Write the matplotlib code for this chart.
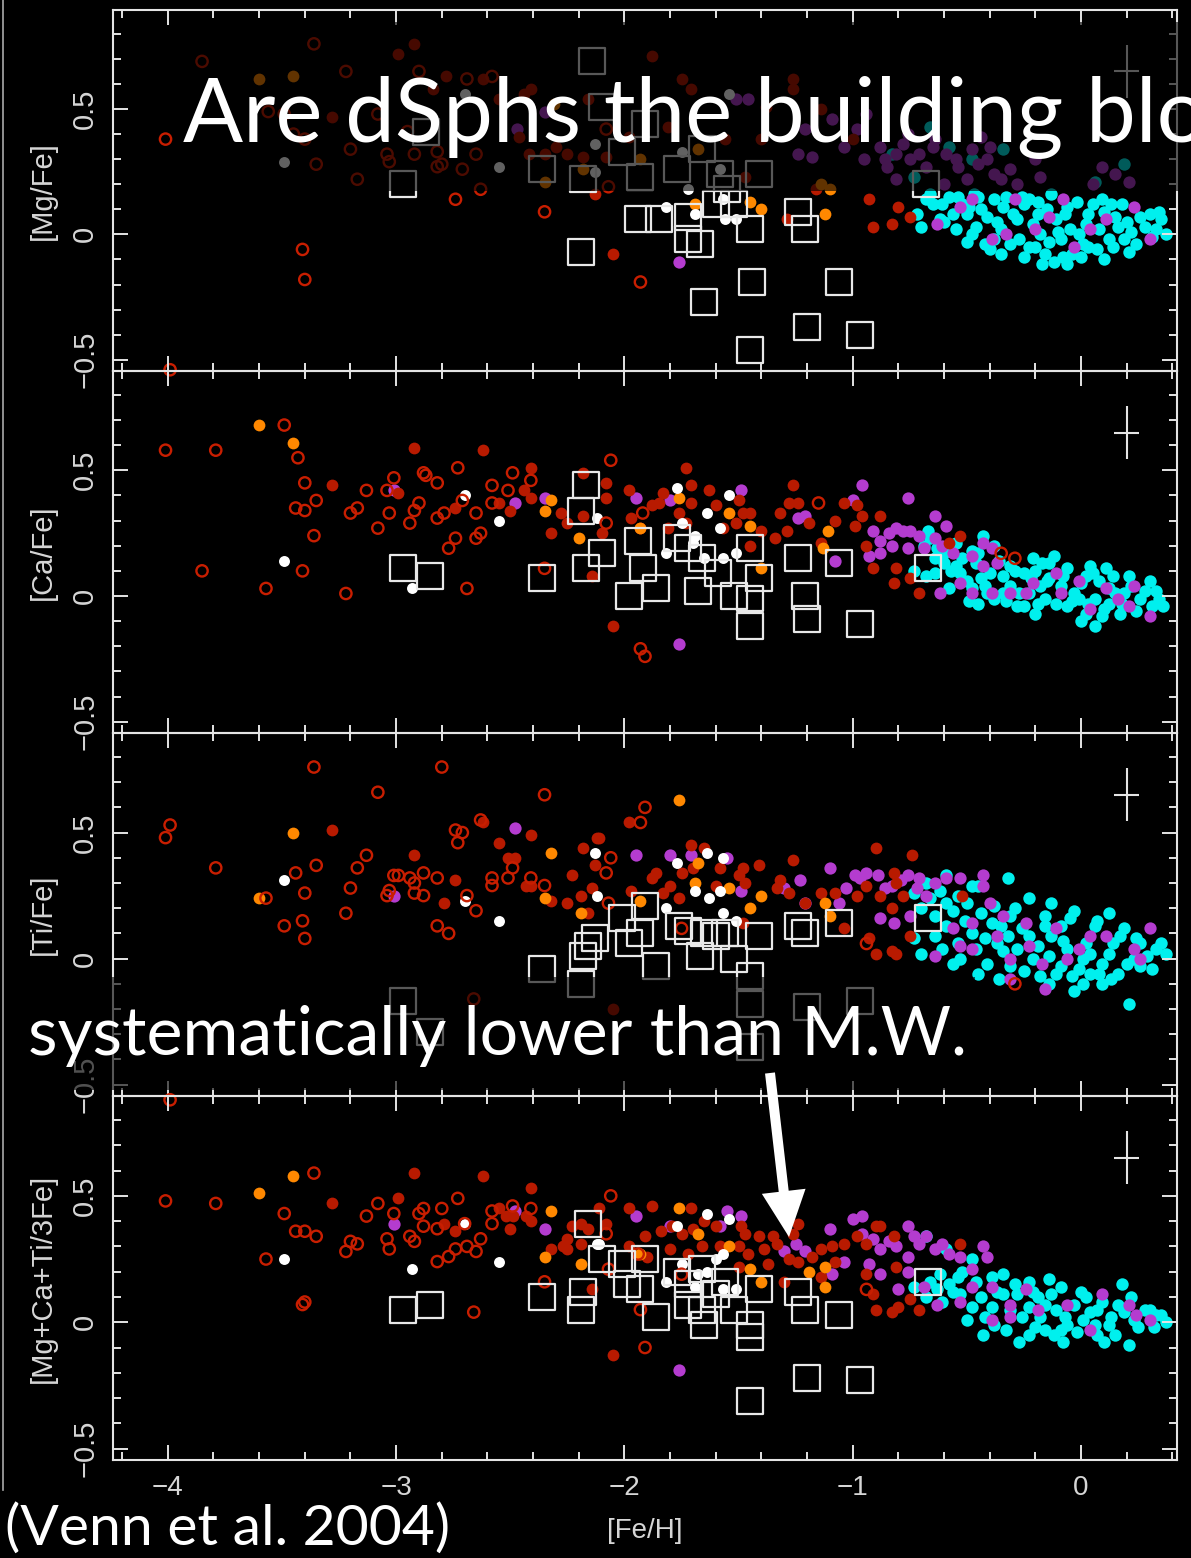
import matplotlib
matplotlib.use("Agg")
import matplotlib.pyplot as plt
from matplotlib.ticker import MultipleLocator, FixedLocator, FixedFormatter
from matplotlib.patches import Rectangle, FancyArrow

W, H, DPI = 1191, 1558, 100

# ---------------- [Mg/Fe] ----------------
mg_open = [(-3.99,-0.54),(-4.01,0.38),(-3.85,0.69),(-3.36,0.76),(-3.22,0.65),(-3.41,-0.06),(-3.40,-0.18),
           (-3.20,0.34),(-3.35,0.28),(-3.17,0.22),(-3.04,0.32),(-3.03,0.29),(-2.92,0.32),(-2.90,0.65),
           (-2.82,0.33),(-2.82,0.27),(-2.80,0.28),(-2.74,0.14),(-2.71,0.26),(-2.69,0.62),(-2.65,0.32),
           (-2.63,0.18),(-2.58,0.63),(-2.35,0.09),(-2.95,0.41),(-3.08,0.48),(-3.56,0.49),(-3.49,0.48),
           (-3.45,0.40),(-3.40,0.38),(-1.93,-0.19),(-2.07,0.19),(-2.08,0.42)]
mg_red = [(-2.99,0.72),(-2.92,0.76),(-2.84,0.58),(-2.78,0.63),(-2.62,0.62),(-2.55,0.54),(-2.44,0.56),
          (-2.41,0.58),(-2.13,0.16),(-2.25,0.32),(-2.18,0.31),(-2.16,0.54),(-2.46,0.39),(-2.42,0.32),
          (-2.35,0.32),(-2.30,0.35),(-3.28,0.47),(-2.05,-0.08),(-1.88,0.71),(-1.75,0.62),(-1.71,0.58),
          (-1.26,0.62),(-1.26,0.58),(-1.16,0.18),(-0.93,0.14),(-0.91,0.03),(-0.83,0.04),(-0.80,0.11),
          (-0.75,0.07),(-1.29,0.06),(-1.47,0.23),(-1.98,0.39),(-1.81,0.43),(-2.08,0.31),(-1.40,0.38),
          (-1.56,0.38),(-1.14,0.50),(-1.00,0.38),(-1.38,0.51)]
mg_orange = [(-3.60,0.62),(-3.45,0.63),(-2.35,0.21),(-2.18,0.26),(-2.31,0.52),(-1.69,0.12),(-1.45,0.13),
             (-1.40,0.10),(-1.12,0.08),(-1.14,0.20),(-1.10,0.18),(-1.93,0.30),(-1.68,0.34)]
mg_white = [(-3.49,0.29),(-2.70,0.56),(-2.55,0.27),(-2.13,0.36),(-1.82,0.11),(-1.69,0.08),(-1.57,0.14),
            (-1.56,0.06),(-1.51,0.06),(-1.72,0.18),(-2.13,0.25),(-1.54,0.56),(-1.75,0.33),(-1.58,0.26)]
mg_purple = [(-2.35,0.49),(-2.47,0.42),(-1.76,-0.11),(-1.51,0.54),(-1.46,0.54),(-1.09,0.46),(-1.21,0.42),
             (-1.24,0.32),(-1.18,0.31),(-1.04,0.35),(-0.98,0.42),(-0.94,0.48),(-0.88,0.35),(-0.86,0.30),
             (-0.81,0.32),(-0.78,0.36),(-0.71,0.32),(-0.68,0.27),(-0.64,0.38),(-0.59,0.32),(-0.54,0.27),
             (-0.48,0.34),(-0.41,0.30),(-0.38,0.24),(-0.31,0.26),(-0.18,0.23),(0.09,0.27),(0.21,0.21),
             (-0.81,0.22),(-0.76,0.40),(-0.44,0.39),(-0.63,0.04),(-0.53,0.11),(-0.39,-0.02),(-0.33,0.00),
             (-0.20,0.02),(-0.08,0.14),(0.04,0.02),(0.23,0.11),(0.30,-0.02),(-0.03,-0.05),(-0.29,0.14),
             (-0.48,0.14),(-0.14,0.07),(0.11,0.06),(-0.95,0.30),(-0.85,0.27),(-0.75,0.30),(-0.65,0.35),
             (-0.55,0.30),(-0.45,0.28),(-0.35,0.22),(-0.28,0.20),(-0.60,0.20),(-0.50,0.22),(-0.40,0.35),
             (-0.20,0.30),(0.05,0.20),(0.15,0.24)]
mg_cyan = [(-0.72,0.08),(-0.68,0.14),(-0.61,0.12),(-0.56,0.08),(-0.49,0.11),(-0.46,0.03),(-0.41,0.07),
           (-0.38,-0.02),(-0.34,0.11),(-0.28,0.06),(-0.23,0.14),(-0.23,-0.05),(-0.18,0.00),(-0.16,-0.08),
           (-0.12,-0.11),(-0.11,0.06),(-0.06,0.11),(-0.04,-0.08),(-0.01,0.00),(0.03,0.08),(0.08,0.02),
           (0.13,0.12),(0.16,0.03),(0.21,-0.07),(0.26,0.07),(0.33,0.02),(0.35,0.06),(0.37,0.00),
           (-0.48,0.00),(-0.31,-0.04),(-0.09,-0.02),(0.09,0.14),(0.19,-0.02),(-0.54,0.15),(-0.19,0.08),
           (0.03,-0.05),(-0.38,0.14),(-0.60,0.05),(-0.50,0.08),(-0.35,0.02),(-0.25,0.12),(-0.15,0.10),
           (-0.05,0.02),(0.05,0.12),(0.12,-0.02),(0.20,0.05),(0.30,0.08),(-0.40,-0.06),(-0.20,-0.05),
           (0.00,-0.09),(-0.65,0.12),(-0.45,0.15),(-0.66,0.43),(-0.58,0.35),(-0.34,0.34),(0.19,0.28),
           (0.06,0.21),(-0.83,0.32),(-0.73,0.23),(-0.48,0.30),
           (-0.70,0.03),(-0.66,0.16),(-0.62,0.06),(-0.58,0.15),(-0.55,0.02),(-0.52,0.12),(-0.50,-0.03),
           (-0.47,0.16),(-0.44,0.10),(-0.42,-0.04),(-0.37,0.05),(-0.33,0.15),(-0.30,0.08),(-0.27,-0.02),
           (-0.26,0.15),(-0.21,0.04),(-0.19,0.13),(-0.14,-0.03),(-0.13,0.16),(-0.10,0.01),(-0.08,-0.09),
           (-0.07,0.08),(-0.02,0.13),(0.01,-0.04),(0.02,0.04),(0.07,-0.06),(0.10,0.09),(0.14,-0.05),
           (0.15,0.07),(0.18,0.12),(0.22,0.01),(0.24,-0.04),(0.28,0.03),(0.31,-0.01),(0.34,0.09),
           (-0.35,-0.08),(-0.25,-0.09),(-0.17,-0.12),(-0.06,-0.12),(0.10,-0.10)]
mg_dsph = [(-2.97,0.20),(-2.87,0.41),(-2.36,0.26),(-2.18,0.22),(-2.14,0.69),(-2.10,0.51),(-2.19,-0.07),
           (-1.91,0.44),(-2.01,0.33),(-1.93,0.23),(-1.77,0.26),(-1.66,0.34),(-1.58,0.24),(-1.41,0.24),
           (-1.55,0.18),(-1.52,0.12),(-1.94,0.06),(-1.85,0.06),(-1.72,0.07),(-1.72,-0.02),(-1.67,-0.04),
           (-1.60,0.12),(-1.45,0.02),(-1.24,0.09),(-1.21,0.02),(-1.44,-0.19),(-1.06,-0.19),(-1.65,-0.27),
           (-1.20,-0.37),(-0.97,-0.40),(-1.45,-0.46),(-0.68,0.20)]

# ---------------- [Ca/Fe] ----------------
ca_open = [(-4.01,0.58),(-3.79,0.58),(-3.49,0.68),(-3.43,0.55),(-3.40,0.45),(-3.35,0.38),(-3.44,0.35),
           (-3.40,0.34),(-3.36,0.24),(-3.85,0.10),(-3.57,0.03),(-3.41,0.10),(-3.22,0.01),(-3.20,0.33),
           (-3.17,0.35),(-3.13,0.42),(-3.08,0.27),(-3.04,0.42),(-3.03,0.33),(-3.01,0.47),(-2.94,0.29),
           (-2.92,0.34),(-2.90,0.37),(-2.88,0.49),(-2.87,0.48),(-2.82,0.45),(-2.82,0.31),(-2.79,0.33),
           (-2.77,0.19),(-2.74,0.23),(-2.73,0.51),(-2.71,0.38),(-2.69,0.03),(-2.65,0.23),(-2.65,0.33),
           (-2.63,0.25),(-2.58,0.44),(-2.58,0.37),(-2.51,0.42),(-2.49,0.49),(-2.41,0.46),(-2.35,0.11),
           (-2.06,0.54),(-1.15,0.37),(-1.92,0.33),(-2.08,0.29),(-1.93,-0.21),(-1.91,-0.24),(-0.35,0.17),
           (-0.29,0.15)]
ca_red = [(-3.28,0.44),(-2.99,0.41),(-2.92,0.59),(-2.74,0.35),(-2.62,0.58),(-2.55,0.37),(-2.50,0.34),
          (-2.44,0.42),(-2.41,0.51),(-2.41,0.39),(-2.32,0.25),(-2.28,0.33),(-2.25,0.29),(-2.18,0.49),
          (-2.18,0.32),(-2.14,0.08),(-1.73,0.51),(-2.08,0.45),(-1.98,0.42),(-1.71,0.44),(-1.63,0.42),
          (-1.83,0.41),(-1.88,0.36),(-1.85,0.37),(-1.76,0.33),(-1.71,0.37),(-1.60,0.36),(-1.50,0.38),
          (-1.48,0.33),(-2.08,0.39),(-1.97,0.31),(-1.93,0.27),(-2.10,0.25),(-1.81,0.27),(-1.73,0.29),
          (-1.57,0.27),(-1.51,0.29),(-1.45,0.33),(-1.40,0.26),(-1.34,0.23),(-1.32,0.33),(-1.26,0.44),
          (-1.28,0.37),(-1.24,0.37),(-1.29,0.26),(-1.19,0.29),(-1.14,0.21),(-1.08,0.30),(-1.04,0.37),
          (-0.98,0.36),(-0.96,0.32),(-0.88,0.32),(-0.99,0.28),(-0.94,0.20),(-0.91,0.11),(-0.81,0.11),
          (-0.82,0.05),(-0.71,0.01),(-2.05,-0.12),(-1.45,0.20),(-0.75,0.07),(-0.53,0.24),(-0.58,0.21)]
ca_orange = [(-3.60,0.68),(-3.45,0.61),(-2.35,0.34),(-2.32,0.38),(-2.20,0.23),(-1.76,0.39),(-1.54,0.33),
             (-1.45,0.28),(-1.93,0.27),(-1.11,0.26),(-1.13,0.19),(-1.40,0.11)]
ca_white = [(-3.49,0.14),(-2.93,0.03),(-2.70,0.40),(-2.55,0.30),(-1.77,0.43),(-1.54,0.40),(-1.64,0.33),
            (-1.75,0.29),(-2.12,0.31),(-1.82,0.17),(-1.70,0.21),(-1.65,0.15),(-1.58,0.27),(-1.57,0.15),
            (-1.51,0.17),(-1.69,0.24)]
ca_purple = [(-3.01,0.42),(-2.48,0.37),(-2.35,0.39),(-1.95,0.39),(-1.80,0.38),(-1.49,0.42),(-0.96,0.44),
             (-0.76,0.39),(-1.00,0.38),(-1.24,0.31),(-1.21,0.32),(-0.64,0.32),(-0.59,0.28),(-1.76,-0.19),
             (-1.08,0.14),(-0.91,0.26),(-0.88,0.22),(-0.84,0.25),(-0.81,0.27),(-0.78,0.26),(-0.75,0.26),
             (-0.71,0.24),(-0.93,0.16),(-0.88,0.17),(-0.83,0.20),(-0.76,0.19),(-0.69,0.19),(-0.64,0.23),
             (-0.61,0.20),(-0.56,0.17),(-0.48,0.16),(-0.43,0.21),(-0.39,0.19),(-0.37,0.13),(-0.43,0.12),
             (-0.53,0.05),(-0.39,0.01),(-0.31,0.01),(-0.21,0.05),(-0.01,0.06),(0.04,-0.05),(0.21,-0.04),
             (0.30,-0.08),(0.23,0.04),(-0.11,0.09),(0.16,-0.01),(-0.62,0.01),(-0.48,0.01),(-0.24,0.01),
             (-0.09,0.01),(0.11,0.03)]
ca_cyan = [(-0.67,0.26),(-0.69,0.20),(-0.63,0.19),(-0.58,0.18),(-0.48,0.18),(-0.38,0.20),(-0.73,0.10),
           (-0.68,0.08),(-0.64,0.09),(-0.60,0.13),(-0.55,0.12),(-0.58,0.03),(-0.48,0.03),(-0.49,-0.02),
           (-0.44,0.07),(-0.40,0.09),(-0.34,0.08),(-0.31,0.12),(-0.25,0.09),(-0.21,0.15),(-0.17,0.13),
           (-0.14,0.13),(-0.23,0.01),(-0.25,-0.04),(-0.16,-0.01),(-0.09,0.04),(-0.06,-0.04),(-0.03,0.01),
           (0.02,0.08),(0.05,0.09),(0.11,0.11),(0.12,0.03),(0.17,-0.07),(0.06,-0.12),(0.09,-0.08),
           (0.21,0.08),(0.26,-0.01),(0.33,0.02),(0.36,-0.04),(0.31,-0.04),(-0.38,-0.01),(-0.31,0.04),
           (-0.41,0.01),(-0.14,0.07),(-0.01,-0.01),(0.06,-0.01),(0.19,0.01),(-0.18,0.04),(-0.11,-0.03),
           (0.02,-0.07),(-0.28,-0.04),(-0.53,0.09),(-0.46,0.13),(-0.06,0.11),(-0.22,0.07),(-0.34,0.01),
           (-0.64,0.15),(0.12,-0.03),
           (-0.66,0.23),(-0.61,0.16),(-0.57,0.10),(-0.52,0.15),(-0.50,0.06),(-0.45,0.17),(-0.42,0.04),
           (-0.36,0.14),(-0.33,-0.02),(-0.29,0.10),(-0.27,0.01),(-0.20,0.10),(-0.19,-0.03),(-0.15,0.06),
           (-0.12,0.16),(-0.08,0.08),(-0.04,-0.02),(0.00,0.05),(0.03,-0.03),(0.04,0.12),(0.08,0.06),
           (0.10,-0.05),(0.14,0.08),(0.15,0.01),(0.18,-0.03),(0.22,0.04),(0.24,-0.06),(0.28,0.02),
           (0.30,0.06),(0.34,-0.01),(-0.45,-0.03),(-0.20,-0.07),(0.00,-0.10),(-0.55,0.21),(-0.43,0.24)]
ca_dsph = [(-2.97,0.11),(-2.85,0.08),(-2.36,0.07),(-2.17,0.44),(-2.19,0.34),(-2.17,0.11),(-2.10,0.17),
           (-1.94,0.22),(-1.92,0.11),(-1.98,0.00),(-1.86,0.03),(-1.77,0.23),(-1.72,0.19),(-1.68,0.02),
           (-1.66,0.15),(-1.59,0.09),(-1.52,0.00),(-1.45,0.19),(-1.41,0.07),(-1.45,-0.01),(-1.45,-0.12),
           (-1.24,0.15),(-1.21,0.00),(-1.20,-0.09),(-1.06,0.13),(-0.97,-0.11),(-0.67,0.11)]

# ---------------- [Ti/Fe] ----------------
ti_open = [(-3.99,0.53),(-4.01,0.48),(-3.79,0.36),(-3.57,0.24),(-3.49,0.13),(-3.44,0.34),(-3.41,0.15),
           (-3.40,0.08),(-3.40,0.26),(-3.36,0.76),(-3.35,0.37),(-3.22,0.18),(-3.20,0.28),(-3.17,0.36),
           (-3.13,0.41),(-3.08,0.66),(-3.04,0.25),(-3.03,0.27),(-3.01,0.33),(-2.99,0.33),(-2.94,0.32),
           (-2.92,0.30),(-2.92,0.26),(-2.88,0.34),(-2.88,0.25),(-2.82,0.32),(-2.82,0.13),(-2.80,0.76),
           (-2.77,0.10),(-2.74,0.51),(-2.73,0.46),(-2.71,0.50),(-2.69,0.25),(-2.65,0.19),(-2.63,0.55),
           (-2.58,0.32),(-2.58,0.29),(-2.51,0.32),(-2.49,0.36),(-2.41,0.32),(-2.35,0.65),(-2.35,0.29),
           (-2.66,-0.16),(-1.91,0.60),(-1.93,0.54),(-2.06,0.40),(-2.08,0.34),(-2.07,0.22),(-0.94,0.06),
           (-0.29,-0.10),(-1.75,0.12)]
ti_red = [(-3.28,0.51),(-2.92,0.41),(-2.79,0.22),(-2.74,0.31),(-2.62,0.54),(-2.55,0.46),(-2.51,0.40),
          (-2.48,0.40),(-2.41,0.49),(-2.43,0.29),(-2.41,0.29),(-2.32,0.23),(-2.25,0.22),(-2.23,0.33),
          (-2.19,0.25),(-2.18,0.44),(-2.13,0.37),(-2.12,0.48),(-2.14,0.28),(-2.16,0.18),(-1.98,0.54),
          (-2.11,0.48),(-1.71,0.45),(-1.65,0.44),(-1.86,0.34),(-1.88,0.32),(-1.75,0.34),(-1.70,0.36),
          (-1.58,0.36),(-1.48,0.36),(-1.41,0.37),(-1.50,0.33),(-1.80,0.29),(-1.83,0.26),(-1.76,0.24),
          (-1.97,0.27),(-1.60,0.29),(-1.47,0.30),(-1.32,0.31),(-1.26,0.39),(-1.28,0.26),(-1.33,0.28),
          (-1.21,0.22),(-1.14,0.26),(-1.08,0.26),(-0.98,0.25),(-0.94,0.29),(-0.88,0.25),(-0.90,0.44),
          (-0.74,0.41),(-0.82,0.34),(-0.81,0.30),(-0.78,0.25),(-0.83,0.20),(-0.93,0.08),(-0.90,0.02),
          (-0.81,0.02),(-0.83,0.03),(-0.75,0.09),(-1.04,0.12),(-1.48,0.14),(-0.52,0.25),(-2.05,-0.20)]
ti_orange = [(-3.45,0.50),(-3.60,0.24),(-2.32,0.42),(-2.35,0.24),(-2.19,0.18),(-1.76,0.63),(-1.68,0.38),
             (-1.69,0.30),(-1.54,0.28),(-1.93,0.23),(-1.45,0.20),(-1.40,0.25),(-1.12,0.22),(-1.10,0.17)]
ti_white = [(-3.49,0.31),(-2.70,0.23),(-2.55,0.15),(-2.13,0.42),(-2.12,0.25),(-1.77,0.38),(-1.64,0.42),
            (-1.57,0.40),(-1.69,0.27),(-1.63,0.24),(-1.58,0.27),(-1.57,0.18),(-1.82,0.20),(-1.51,0.15)]
ti_purple = [(-3.01,0.25),(-2.48,0.52),(-1.95,0.41),(-1.80,0.41),(-1.71,0.41),(-1.55,0.40),(-1.49,0.27),
             (-1.30,0.28),(-1.23,0.31),(-1.10,0.36),(-1.21,0.22),(-1.06,0.22),(-1.03,0.28),(-0.99,0.33),
             (-0.97,0.32),(-0.94,0.34),(-0.89,0.33),(-0.86,0.28),(-0.83,0.29),(-0.79,0.31),(-0.76,0.33),
             (-0.71,0.32),(-0.72,0.28),(-0.68,0.25),(-0.64,0.30),(-0.59,0.32),(-0.53,0.32),(-0.43,0.33),
             (-0.43,0.29),(-0.40,0.22),(-0.88,0.16),(-0.82,0.14),(-0.75,0.17),(-0.64,0.01),(-0.56,0.12),
             (-0.53,0.05),(-0.48,0.14),(-0.37,0.09),(-0.31,-0.08),(-0.16,-0.12),(-0.11,0.12),(-0.01,0.04),
             (0.04,0.09),(0.11,0.09),(0.23,0.04),(0.26,0.00),(0.30,0.12),(-0.31,0.00),(-0.48,0.04),
             (-0.24,0.14),(-0.34,0.17),(-0.23,0.05),(-0.17,-0.02),(-0.06,0.00)]
ti_cyan = [(-0.73,0.26),(-0.68,0.30),(-0.59,0.33),(-0.70,0.20),(-0.64,0.17),(-0.59,0.22),(-0.54,0.25),
           (-0.48,0.29),(-0.45,0.29),(-0.32,0.32),(-0.23,0.24),(-0.13,0.22),(-0.03,0.19),(0.12,0.18),
           (-0.73,0.08),(-0.70,0.02),(-0.64,0.09),(-0.59,0.13),(-0.54,0.06),(-0.53,0.00),(-0.48,0.10),
           (-0.46,0.04),(-0.41,-0.02),(-0.39,0.14),(-0.37,0.06),(-0.32,0.09),(-0.31,-0.03),(-0.28,0.04),
           (-0.23,0.09),(-0.21,0.00),(-0.18,-0.07),(-0.14,0.01),(-0.13,0.09),(-0.09,-0.03),(-0.06,0.04),
           (-0.04,-0.07),(-0.03,-0.13),(0.01,0.00),(0.02,0.06),(0.06,0.13),(0.09,-0.02),(0.09,-0.10),
           (0.14,0.06),(0.16,-0.06),(0.19,0.12),(0.21,-0.18),(0.23,0.00),(0.26,-0.03),(0.33,0.04),
           (0.37,0.02),(0.26,0.06),(-0.09,0.13),(-0.31,0.17),(-0.16,0.17),(0.04,-0.06),(-0.38,0.21),
           (-0.66,0.24),(-0.62,0.27),(-0.56,0.19),(-0.51,0.15),(-0.50,0.22),(-0.44,0.18),(-0.42,0.08),
           (-0.35,0.13),(-0.34,0.03),(-0.29,0.20),(-0.26,0.12),(-0.25,-0.05),(-0.19,0.05),(-0.16,0.13),
           (-0.11,-0.06),(-0.08,0.07),(-0.05,0.16),(-0.01,-0.04),(0.04,0.02),(0.07,0.15),(0.08,-0.06),
           (0.12,0.02),(0.17,0.09),(0.20,-0.02),(0.24,0.08),(0.29,0.01),(0.31,-0.04),(0.35,0.06),
           (-0.61,0.04),(-0.56,-0.02),(-0.45,-0.06),(-0.36,-0.08),(-0.14,-0.10),(0.01,-0.10),(0.13,-0.08)]
ti_dsph = [(-2.36,-0.04),(-2.16,0.05),(-2.18,0.01),(-2.13,0.08),(-2.97,-0.17),(-2.85,-0.29),(-2.19,-0.10),
           (-1.91,0.21),(-2.01,0.16),(-1.93,0.10),(-1.76,0.13),(-1.72,0.11),(-1.65,0.10),(-1.60,0.09),
           (-1.56,0.10),(-1.41,0.09),(-1.24,0.13),(-1.21,0.10),(-1.06,0.14),(-0.67,0.16),(-1.98,0.06),
           (-1.67,0.01),(-1.52,0.00),(-1.86,-0.03),(-1.45,-0.07),(-1.45,-0.18),(-1.20,-0.19),
           (-0.97,-0.17),(-1.45,-0.35)]

# ---------------- [Mg+Ca+Ti/3Fe] ----------------
al_open = [(-3.99,0.88),(-4.01,0.48),(-3.79,0.47),(-3.57,0.25),(-3.49,0.43),(-3.44,0.36),(-3.40,0.36),
           (-3.35,0.34),(-3.41,0.07),(-3.40,0.08),(-3.36,0.59),(-3.22,0.28),(-3.20,0.32),(-3.17,0.31),
           (-3.13,0.42),(-3.08,0.47),(-3.04,0.33),(-3.03,0.29),(-3.01,0.43),(-2.94,0.34),(-2.92,0.32),
           (-2.90,0.43),(-2.88,0.45),(-2.88,0.38),(-2.82,0.37),(-2.82,0.24),(-2.80,0.45),(-2.77,0.26),
           (-2.74,0.29),(-2.73,0.49),(-2.70,0.39),(-2.69,0.30),(-2.66,0.04),(-2.65,0.28),(-2.63,0.33),
           (-2.58,0.44),(-2.58,0.39),(-2.49,0.46),(-2.41,0.45),(-2.35,0.16),(-2.06,0.50),(-2.08,0.35),
           (-1.93,0.05),(-1.91,-0.10),(-2.07,0.21),(-1.75,0.19),(-0.94,0.13),(-1.94,0.27)]
al_red = [(-3.28,0.47),(-2.99,0.49),(-2.92,0.59),(-2.79,0.39),(-2.74,0.36),(-2.62,0.58),(-2.55,0.45),
          (-2.52,0.42),(-2.49,0.42),(-2.50,0.37),(-2.43,0.42),(-2.41,0.53),(-2.41,0.40),(-2.32,0.29),
          (-2.27,0.30),(-2.25,0.29),(-2.25,0.33),(-2.23,0.38),(-2.19,0.39),(-2.19,0.31),(-2.16,0.37),
          (-2.14,0.13),(-2.11,0.45),(-2.05,-0.13),(-1.98,0.45),(-1.88,0.46),(-1.71,0.45),(-2.08,0.39),
          (-1.91,0.34),(-1.84,0.36),(-1.79,0.38),(-1.75,0.35),(-1.70,0.37),(-1.65,0.40),(-1.60,0.38),
          (-1.49,0.38),(-1.47,0.35),(-1.41,0.34),(-1.35,0.34),(-1.98,0.30),(-1.90,0.26),(-1.80,0.29),
          (-1.72,0.27),(-1.66,0.30),(-1.58,0.30),(-1.50,0.30),(-1.46,0.27),(-1.39,0.29),(-1.33,0.31),
          (-1.37,0.23),(-1.50,0.22),(-1.28,0.25),(-1.24,0.24),(-1.26,0.35),(-1.24,0.39),(-1.18,0.26),
          (-1.14,0.29),(-1.09,0.30),(-1.08,0.24),(-1.14,0.18),(-1.04,0.31),(-0.98,0.34),(-0.94,0.31),
          (-0.90,0.38),(-0.88,0.38),(-0.82,0.34),(-0.94,0.19),(-0.91,0.11),(-0.90,0.05),(-0.83,0.04),
          (-0.80,0.06),(-0.75,0.09),(-0.71,0.05),(-0.81,0.22),(-0.53,0.31),(-1.30,0.16)]
al_orange = [(-3.45,0.58),(-3.60,0.51),(-2.32,0.44),(-2.35,0.26),(-2.19,0.23),(-1.76,0.45),(-1.68,0.35),
             (-1.54,0.30),(-1.93,0.27),(-1.40,0.16),(-1.19,0.20),(-1.12,0.22),(-1.12,0.14),(-1.45,0.21)]
al_white = [(-3.49,0.25),(-2.93,0.21),(-2.70,0.39),(-2.55,0.24),(-2.11,0.31),(-2.12,0.31),(-1.77,0.38),
            (-1.64,0.43),(-1.54,0.41),(-1.57,0.27),(-1.60,0.25),(-1.75,0.23),(-1.68,0.19),(-1.82,0.16),
            (-1.64,0.20),(-1.57,0.13),(-1.51,0.13),(-1.69,0.14)]
al_purple = [(-3.01,0.39),(-2.48,0.44),(-2.35,0.37),(-1.95,0.42),(-1.80,0.38),(-1.55,0.44),(-1.49,0.42),
             (-1.58,0.38),(-1.76,-0.19),(-1.30,0.28),(-1.25,0.31),(-1.21,0.28),(-1.10,0.37),(-1.04,0.24),
             (-1.09,0.19),(-1.00,0.41),(-0.96,0.42),(-0.96,0.35),(-0.91,0.33),(-0.88,0.29),(-0.84,0.32),
             (-0.81,0.30),(-0.76,0.38),(-0.73,0.34),(-0.71,0.31),(-0.76,0.26),(-0.68,0.34),(-0.64,0.29),
             (-0.61,0.31),(-0.58,0.27),(-0.53,0.26),(-0.43,0.30),(-0.41,0.26),(-0.88,0.19),(-0.80,0.13),
             (-0.76,0.20),(-0.93,0.23),(-0.69,0.14),(-0.63,0.07),(-0.53,0.08),(-0.48,0.14),(-0.39,0.01),
             (-0.31,0.02),(-0.31,0.07),(-0.24,0.13),(-0.19,0.05),(-0.06,0.07),(0.04,-0.03),(0.09,0.11),
             (0.21,0.07),(0.24,0.03),(0.30,0.01),(-0.39,0.14),(-0.48,0.21)]
al_cyan = [(-0.68,0.34),(-0.59,0.29),(-0.73,0.14),(-0.68,0.10),(-0.63,0.13),(-0.58,0.15),(-0.53,0.11),
           (-0.48,0.25),(-0.48,0.06),(-0.44,0.10),(-0.39,0.06),(-0.38,-0.01),(-0.34,0.19),(-0.34,0.11),
           (-0.31,0.05),(-0.28,0.11),(-0.23,0.06),(-0.23,-0.05),(-0.23,0.16),(-0.18,0.02),(-0.16,-0.03),
           (-0.14,0.17),(-0.13,0.11),(-0.11,0.05),(-0.06,-0.01),(-0.03,0.07),(0.01,0.01),(0.02,0.10),
           (0.07,0.05),(0.12,-0.01),(0.16,0.07),(0.18,0.15),(0.21,-0.09),(0.23,0.01),(0.28,0.05),
           (0.33,0.03),(0.37,0.00),(-0.09,-0.03),(0.06,-0.01),(-0.54,0.18),(-0.39,0.18),(-0.19,0.10),
           (-0.66,0.16),(-0.61,0.08),(-0.56,0.12),(-0.52,0.20),(-0.50,0.01),(-0.46,0.16),(-0.42,0.02),
           (-0.37,0.12),(-0.33,-0.03),(-0.29,0.15),(-0.26,0.02),(-0.21,0.12),(-0.20,-0.02),(-0.16,0.07),
           (-0.12,-0.05),(-0.09,0.14),(-0.07,0.02),(-0.02,-0.04),(0.00,0.12),(0.04,0.04),(0.07,-0.05),
           (0.09,0.08),(0.13,0.02),(0.15,-0.05),(0.19,0.04),(0.22,0.10),(0.25,-0.02),(0.30,0.05),
           (0.32,-0.02),(0.35,0.03),(-0.43,-0.05),(-0.27,-0.08),(-0.08,-0.08),(0.10,-0.08),(-0.62,0.19)]
al_dsph = [(-2.97,0.05),(-2.85,0.07),(-2.36,0.10),(-2.18,0.12),(-2.19,0.05),(-2.16,0.39),(-2.10,0.25),
           (-2.01,0.23),(-1.91,0.25),(-1.93,0.13),(-1.99,0.15),(-1.86,0.02),(-1.77,0.20),(-1.72,0.15),
           (-1.66,0.21),(-1.72,0.07),(-1.65,-0.01),(-1.66,0.05),(-1.56,0.16),(-1.60,0.11),(-1.52,0.05),
           (-1.45,-0.01),(-1.45,-0.06),(-1.41,0.13),(-1.24,0.12),(-1.21,0.05),(-1.06,0.03),(-1.20,-0.22),
           (-0.97,-0.23),(-1.45,-0.31),(-0.67,0.16)]

ylabels = ["[Mg/Fe]", "[Ca/Fe]", "[Ti/Fe]", "[Mg+Ca+Ti/3Fe]"]
xticks = [-4, -3, -2, -1, 0]
xticklabels = ["\u22124", "\u22123", "\u22122", "\u22121", "0"]
yticks = [-0.5, 0, 0.5]
yticklabels = ["\u22120.5", "0", "0.5"]
err_x, err_y, err_dx, err_dy = 0.20, 0.65, 0.055, 0.105

panels = [
    (mg_open, mg_red, mg_orange, mg_white, mg_purple, mg_cyan, mg_dsph),
    (ca_open, ca_red, ca_orange, ca_white, ca_purple, ca_cyan, ca_dsph),
    (ti_open, ti_red, ti_orange, ti_white, ti_purple, ti_cyan, ti_dsph),
    (al_open, al_red, al_orange, al_white, al_purple, al_cyan, al_dsph),
]

FG = "#e4e4e4"
LBL = "#d6d6d6"
fig = plt.figure(figsize=(W / DPI, H / DPI), dpi=DPI, facecolor="black")
edges = [10, 371, 733, 1096, 1460]
left, right = 113, 1177


def xy(pts):
    return [p[0] for p in pts], [p[1] for p in pts]


for i, (op, rd, org, wh, pu, cy, ds) in enumerate(panels):
    top, bot = edges[i], edges[i + 1]
    ax = fig.add_axes([left / W, 1 - bot / H, (right - left) / W, (bot - top) / H])
    ax.set_facecolor("none")
    ax.set_xlim(-4.24, 0.42)
    ax.set_ylim(-0.545, 0.895)

    kw = dict(clip_on=False, linewidths=0)
    ax.scatter(*xy(cy), s=80, color="#00f0ee", **kw)
    ax.scatter(*xy(pu), s=78, color="#b43ccf", **kw)
    ax.scatter(*xy(rd), s=72, color="#b81a00", **kw)
    ax.scatter(*xy(org), s=72, color="#ff8800", **kw)
    ax.scatter(*xy(wh), s=62, color="white", **kw)
    ax.scatter(*xy(op), s=66, facecolor="none", edgecolor="#c81e00", linewidths=1.7, clip_on=False)
    ax.scatter(*xy(ds), s=350, marker="s", facecolor="none", edgecolor="#e8e8e8",
               linewidths=1.6, clip_on=False)
    ax.errorbar([err_x], [err_y], xerr=err_dx, yerr=err_dy, fmt="none",
                ecolor=FG, elinewidth=1.5, capsize=0)

    for sp in ax.spines.values():
        sp.set_color(FG)
        sp.set_linewidth(1.5)
    ax.xaxis.set_major_locator(FixedLocator(xticks))
    ax.xaxis.set_minor_locator(MultipleLocator(0.2))
    ax.yaxis.set_major_locator(FixedLocator(yticks))
    ax.yaxis.set_major_formatter(FixedFormatter(yticklabels))
    ax.yaxis.set_minor_locator(MultipleLocator(0.1))
    ax.tick_params(which="both", direction="in", top=True, right=True, color=FG, width=1.4,
                   labelcolor=LBL, labelsize=21)
    ax.tick_params(which="major", length=10.5)
    ax.tick_params(which="minor", length=5.5)
    ax.tick_params(axis="y", labelrotation=90, pad=10)
    for t in ax.get_yticklabels():
        t.set_va("center")
        t.set_family("Liberation Sans")
    ax.set_ylabel(ylabels[i], color=LBL, fontsize=21, family="Liberation Sans", labelpad=10)
    if i == 3:
        ax.xaxis.set_major_formatter(FixedFormatter(xticklabels))
        ax.tick_params(axis="x", pad=11, labelsize=20)
        for t in ax.get_xticklabels():
            t.set_family("Liberation Sans")
        ax.set_xlabel("[Fe/H]", color=LBL, fontsize=20, family="Liberation Sans", labelpad=12)
    else:
        ax.tick_params(axis="x", labelbottom=False)

# slide overlays, drawn in pixel coordinates
ov = fig.add_axes([0, 0, 1, 1], zorder=20)
ov.set_xlim(0, W)
ov.set_ylim(H, 0)
ov.axis("off")
ov.patch.set_alpha(0)

ov.plot([3, 3], [0, 1490], color="#aaaaaa", lw=1.2)
ov.add_patch(Rectangle((175, 22), W - 175, 191 - 22, color="black", alpha=0.62, lw=0))
ov.add_patch(Rectangle((0, 977), 975, 1090 - 977, color="black", alpha=0.62, lw=0))
ov.text(183, 142, "Are dSphs the building blo", color="white", fontsize=64, family="Lato",
        ha="left", va="baseline")
ov.text(28, 1055, "systematically lower than M.W.", color="white", fontsize=49, family="Lato",
        ha="left", va="baseline")
ov.text(5, 1545, "(Venn et al. 2004)", color="white", fontsize=41, family="Lato",
        ha="left", va="baseline")
ov.add_patch(FancyArrow(770, 1073, 19, 164, width=10, head_width=44, head_length=46,
                        length_includes_head=True, color="white", lw=0))

fig.savefig("out.png", dpi=DPI, facecolor="black")
